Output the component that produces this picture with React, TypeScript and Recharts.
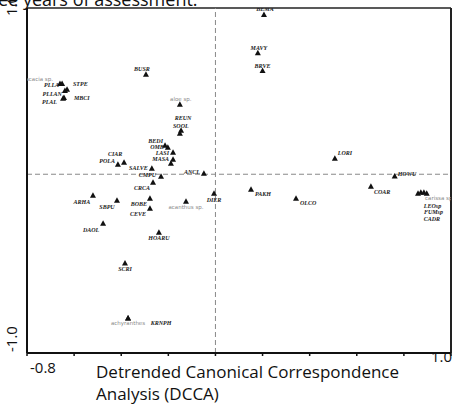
import { ScatterChart, Scatter, XAxis, YAxis, ReferenceLine } from 'recharts';

// DCCA ordination scores (axis 1, axis 2) per species code
const speciesCodes = [
  'BEMA', 'MAVY', 'BRVE', 'BUSR', 'acacia sp.', 'PLLA', 'STPE', 'PLLAN', 'MBCI', 'PLAL',
  'aloe sp.', 'REUN', 'SOOL', 'BEDI', 'OMB', 'LASI', 'MASA', '', 'CIAR', 'POLA',
  'SALVE', 'CMPU', 'ANCL', 'CRCA', 'ARHA', 'SBPU', 'BOBE', 'CEVE', 'acanthus sp.', 'DIER',
  'DAOL', 'HOARU', 'SCRI', 'achyranthes', 'KRNPH', 'LORI', 'HOWU', 'PAKH', 'OLCO', 'COAR',
  'carissa sp.', 'LEOsp', 'FUMsp', 'CADR',
];
const axis1Scores = [
  0.206, 0.18, 0.2, -0.295, -0.66, -0.651, -0.63, -0.639, -0.643, -0.647,
  -0.151, -0.146, -0.151, -0.214, -0.202, -0.18, -0.18, -0.189, -0.388, -0.414,
  -0.27, -0.231, -0.049, -0.265, -0.52, -0.418, -0.278, -0.278, -0.125, -0.006,
  -0.477, -0.24, -0.384, -0.371, -0.371, 0.507, 0.761, 0.151, 0.342, 0.66,
  0.86, 0.872, 0.885, 0.897,
];
const axis2Scores = [
  0.894, 0.68, 0.58, 0.56, 0.508, 0.508, 0.475, 0.469, 0.43, 0.425,
  0.391, 0.246, 0.229, 0.162, 0.151, 0.123, 0.084, 0.061, 0.067, 0.056,
  0.034, -0.011, 0.006, -0.045, -0.117, -0.145, -0.134, -0.19, -0.151, -0.106,
  -0.274, -0.324, -0.497, -0.804, -0.804, 0.089, -0.01, -0.084, -0.134, -0.067,
  -0.106, -0.101, -0.101, -0.106,
];
const xTicks = [-0.8, -0.6, -0.4, -0.2, 0, 0.2, 0.4, 0.6, 0.8, 1.0];
const yTicks = [-1.0, -0.5, 0, 0.5];

// labels written in faint grey (local names)
const faintLabels = ['acacia sp.', 'aloe sp.', 'acanthus sp.', 'achyranthes', 'carissa sp.'];

// label placement next to each marker: [dx, dy, anchor]
const labelPlacement: Record<string, [number, number, string]> = {
  BEMA: [1, -5, 'middle'], MAVY: [1, -5, 'middle'], BRVE: [0, -5, 'middle'], BUSR: [-4, -5, 'middle'],
  'acacia sp.': [-7, -4, 'end'], PLLA: [-3, 2, 'end'], STPE: [6, -5, 'start'], PLLAN: [-3, 4, 'end'],
  MBCI: [10, 1, 'start'], PLAL: [-6, 4, 'end'], 'aloe sp.': [1, -5, 'middle'], REUN: [2, -12, 'middle'],
  SOOL: [1, -7, 'middle'], BEDI: [-2, -4, 'end'], OMB: [-4, 0, 'end'], LASI: [-4, 1, 'end'],
  MASA: [-4, 0, 'end'], CIAR: [-9, -8, 'middle'], POLA: [-3, -3, 'end'], SALVE: [-4, 0, 'end'],
  CMPU: [-5, -1, 'end'], ANCL: [-4, -1, 'end'], CRCA: [-11, 6, 'middle'], ARHA: [-11, 7, 'middle'],
  SBPU: [-10, 7, 'middle'], BOBE: [-11, 6, 'middle'], CEVE: [-12, 6, 'middle'], 'acanthus sp.': [0, 6, 'middle'],
  DIER: [0, 7, 'middle'], DAOL: [-12, 7, 'middle'], HOARU: [0, 6, 'middle'], SCRI: [0, 6, 'middle'],
  achyranthes: [0, 5, 'middle'], KRNPH: [33, 5, 'middle'], LORI: [3, -5, 'start'], HOWU: [3, -2, 'start'],
  PAKH: [4, 5, 'start'], OLCO: [4, 5, 'start'], COAR: [3, 6, 'start'], 'carissa sp.': [7, 5, 'start'],
  LEOsp: [3, 14, 'start'], FUMsp: [0, 20, 'start'], CADR: [-3, 26, 'start'],
};

const points = speciesCodes.map((code, i) => ({ code, x: axis1Scores[i], y: axis2Scores[i] }));

const axisFont = '"Open Sans", "DejaVu Sans", sans-serif';

function SpeciesMarker(props: any) {
  const { cx, cy, payload } = props;
  if (cx == null || cy == null) return null;
  const code: string = payload.code;
  const place = labelPlacement[code];
  const faint = faintLabels.includes(code);
  return (
    <g>
      <polygon
        points={`${cx},${cy - 3} ${cx - 3},${cy + 2.5} ${cx + 3},${cy + 2.5}`}
        fill="#111"
      />
      {code && place && (
        <text
          x={cx + place[0]}
          y={cy + place[1]}
          textAnchor={place[2] as any}
          dominantBaseline="central"
          fontSize={faint ? 5.5 : 6}
          fontFamily={faint ? '"DejaVu Sans", sans-serif' : '"Liberation Serif", serif'}
          fontStyle={faint ? 'normal' : 'italic'}
          fontWeight={faint ? 400 : 700}
          fill={faint ? '#8a8a8a' : '#222'}
        >
          {code}
        </text>
      )}
    </g>
  );
}

function XTick(props: any) {
  const { x, y, payload } = props;
  if (payload.value === -0.8) {
    return (
      <text x={x + 3} y={y + 15} fontSize={15} fontFamily={axisFont} fill="#111" textAnchor="start">
        -0.8
      </text>
    );
  }
  if (payload.value === 1.0) {
    return (
      <text x={x + 1} y={y + 4} fontSize={15} fontFamily={axisFont} fill="#111" textAnchor="end">
        1.0
      </text>
    );
  }
  return null;
}

export default function App() {
  return (
    <div style={{ position: 'absolute', left: 0, top: 0, width: 457, height: 408, background: '#fff', overflow: 'hidden' }}>
      <div
        style={{
          position: 'absolute', left: -2, top: -13, fontFamily: axisFont, fontSize: 18,
          color: '#111', whiteSpace: 'nowrap',
        }}
      >
        ee years of assessment.
      </div>
      <ScatterChart width={457} height={408} margin={{ top: 8, right: 6, bottom: 25, left: 0 }}>
        <XAxis
          type="number"
          dataKey="x"
          domain={[-0.8, 1.0]}
          ticks={xTicks}
          allowDataOverflow
          height={30}
          tickSize={3}
          tickLine={{ stroke: '#111', strokeWidth: 1.5 }}
          axisLine={{ stroke: '#111', strokeWidth: 2 }}
          tick={<XTick />}
        />
        <YAxis
          type="number"
          dataKey="y"
          domain={[-1.0, 0.93]}
          ticks={yTicks}
          allowDataOverflow
          width={27}
          tickSize={4}
          tickLine={{ stroke: '#111', strokeWidth: 1.5 }}
          axisLine={{ stroke: '#111', strokeWidth: 2 }}
          tick={false}
        />
        <ReferenceLine x={-0.8} stroke="#111" strokeWidth={2} />
        <ReferenceLine y={-1.0} stroke="#111" strokeWidth={2} />
        <ReferenceLine y={0.93} stroke="#222" strokeWidth={1.5} />
        <ReferenceLine x={1.0} stroke="#222" strokeWidth={2} />
        <ReferenceLine x={0} stroke="#888" strokeWidth={1} strokeDasharray="5 3" />
        <ReferenceLine y={0} stroke="#888" strokeWidth={1} strokeDasharray="5 3" />
        <Scatter data={points} shape={<SpeciesMarker />} isAnimationActive={false} />
      </ScatterChart>
      <div
        style={{
          position: 'absolute', left: 3, top: 16, fontFamily: axisFont, fontSize: 15, color: '#111',
          transform: 'rotate(-90deg)', transformOrigin: 'left top', whiteSpace: 'nowrap',
          lineHeight: '16px',
        }}
      >
        1.0
      </div>
      <div
        style={{
          position: 'absolute', left: 3, top: 352, fontFamily: axisFont, fontSize: 15, color: '#111',
          transform: 'rotate(-90deg)', transformOrigin: 'left top', whiteSpace: 'nowrap',
          lineHeight: '16px',
        }}
      >
        -1.0
      </div>
      <div
        style={{
          position: 'absolute', left: 96, top: 361, fontFamily: axisFont, fontSize: 17,
          lineHeight: '22px', color: '#111', whiteSpace: 'nowrap',
        }}
      >
        Detrended Canonical Correspondence
        <br />
        Analysis (DCCA)
      </div>
    </div>
  );
}
